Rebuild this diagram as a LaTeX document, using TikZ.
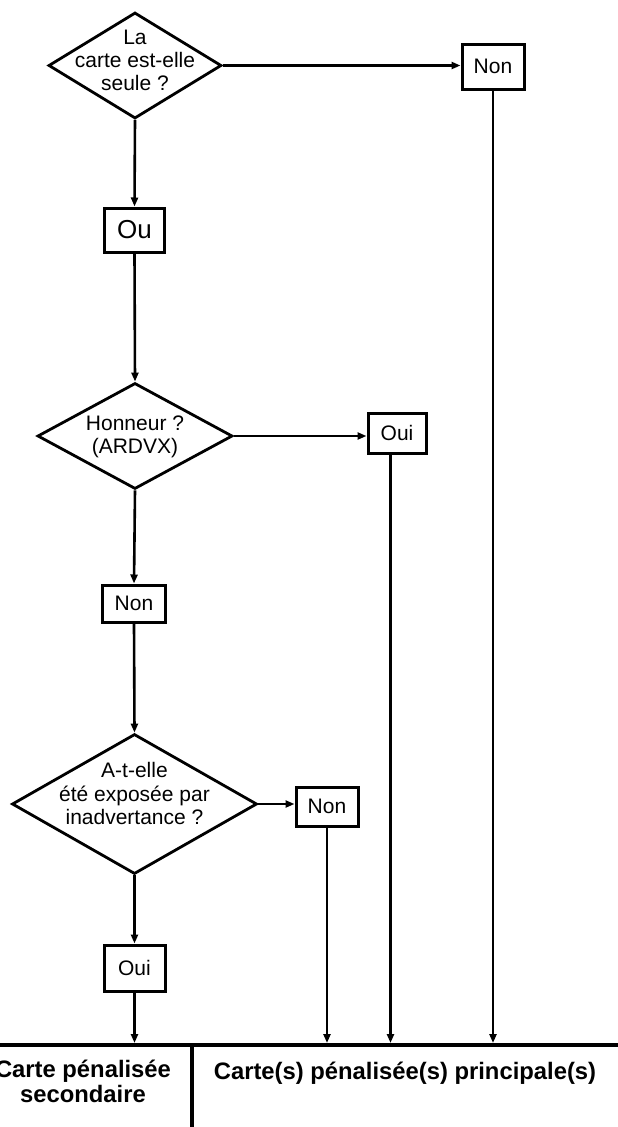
\documentclass[tikz,border=0pt]{standalone}
\usepackage{fontspec}
\setmainfont{Liberation Sans}
\usetikzlibrary{shapes.geometric,arrows.meta}
\begin{document}
\begin{tikzpicture}[x=1pt,y=-1pt,
  dia/.style={diamond,draw,line width=2.8pt,inner sep=0pt},
  box/.style={draw,line width=3pt,inner sep=0pt,font=\fontsize{21}{23}\selectfont},
  lbl/.style={align=center,inner sep=0pt,font=\fontsize{21}{23.3}\selectfont},
  conn/.style={line width=2.6pt,-{Triangle[length=9pt,width=7pt]}},
  head/.style={align=center,inner sep=0pt,font=\fontsize{23.8}{25}\selectfont\bfseries},
  rule/.style={line width=4.5pt}]
\useasboundingbox (0,0) rectangle (618,1127);

% diamonds
\node[dia,minimum width=173pt,minimum height=106pt] (d1) at (135,65.5) {};
\node[lbl] (t1) at (135,60.5) {La\\carte est-elle\\seule ?};
\node[dia,minimum width=195pt,minimum height=106pt] (d2) at (135,436) {};
\node[lbl] (t2) at (135,436.5) {Honneur ?\\(ARDVX)};
\node[dia,minimum width=245pt,minimum height=140pt] (d3) at (134.5,804) {};
\node[lbl] (t3) at (134.5,793.5) {A-t-elle\\été exposée par\\inadvertance ?};

% boxes
\node[box,minimum width=62pt,minimum height=45pt] (n1) at (493,66.5) {Non};
\node[box,minimum width=60pt,minimum height=44pt,font=\fontsize{26}{28}\selectfont] (ou) at (134.5,230) {Ou};
\node[box,minimum width=58pt,minimum height=40pt] (o1) at (397,433) {Oui};
\node[box,minimum width=63pt,minimum height=37pt] (n2) at (134,603.5) {Non};
\node[box,minimum width=62pt,minimum height=39pt] (n3) at (327,806.5) {Non};
\node[box,minimum width=61pt,minimum height=46pt] (o2) at (134.5,968) {Oui};

% table
\coordinate (tl) at (0,1045);
\coordinate (tr) at (618,1045);
\coordinate (tm) at (192,1045);
\coordinate (tb) at (192,1127);
\draw[rule] (tl) -- (tr);
\draw[rule] (tm) -- (tb);
\node[head,anchor=base] (h2) at (405,1079) {Carte(s) pénalisée(s) principale(s)};
\node[head] (h1) at (83,1081) {Carte pénalisée\\secondaire};

% connector end points on the table
\coordinate (e1) at (327,1043);
\coordinate (e2) at (390.5,1043);
\coordinate (e3) at (493,1043);
\coordinate (e4) at (134.5,1043);

% connectors
\draw[conn] (d1.east) -- (d1.east -| n1.west);
\draw[conn] (d1.south) -- (ou.north);
\draw[conn] (ou.south) -- (d2.north);
\draw[conn] (d2.east) -- (d2.east -| o1.west);
\draw[conn] (d2.south) -- (n2.north);
\draw[conn] (n2.south) -- (d3.north);
\draw[conn] (d3.east) -- (d3.east -| n3.west);
\draw[conn] (d3.south) -- (o2.north);
\draw[conn] (o2.south) -- (e4);
\draw[conn] (n3.south) -- (e1);
\draw[conn] (o1.south -| e2) -- (e2);
\draw[conn] (n1.south) -- (e3);
\end{tikzpicture}
\end{document}
